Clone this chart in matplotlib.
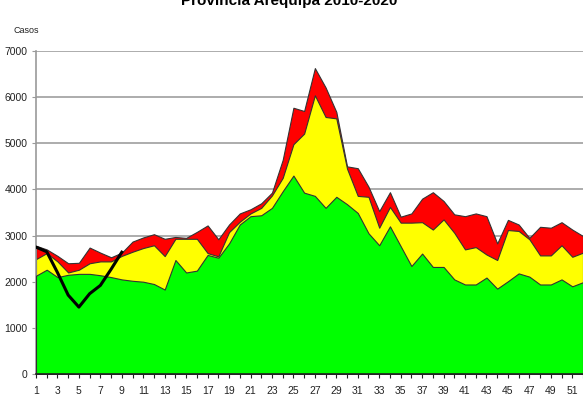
import matplotlib
matplotlib.use("Agg")
import matplotlib.pyplot as plt
import numpy as np

plt.rcParams['font.family'] = ['Liberation Sans Narrow', 'Liberation Sans', 'DejaVu Sans']

# semanas epidemiologicas
semanas = list(range(1, 53))
# zona de exito (verde), seguridad (amarillo), alarma (rojo)
exito = [2130, 2260, 2100, 2150, 2170, 2170, 2140, 2100, 2050, 2020,
         2000, 1950, 1830, 2470, 2200, 2240, 2580, 2520, 2830, 3240,
         3420, 3440, 3600, 3960, 4300, 3930, 3860, 3600, 3840, 3680,
         3490, 3050, 2790, 3200, 2770, 2340, 2610, 2320, 2320, 2050,
         1940, 1940, 2090, 1850, 2010, 2180, 2110, 1940, 1940, 2050,
         1900, 1990]
seguridad = [2490, 2620, 2440, 2200, 2260, 2400, 2440, 2440, 2560, 2650,
             2730, 2790, 2555, 2930, 2930, 2930, 2620, 2550, 3075, 3300,
             3480, 3600, 3870, 4250, 4980, 5210, 6040, 5570, 5540, 4450,
             3860, 3840, 3170, 3620, 3280, 3280, 3290, 3130, 3350, 3060,
             2700, 2750, 2590, 2470, 3120, 3100, 2920, 2570, 2570, 2790,
             2540, 2630]
alarma = [2780, 2700, 2560, 2400, 2410, 2740, 2630, 2530, 2630, 2870,
          2960, 3030, 2930, 2970, 2950, 3080, 3220, 2920, 3240, 3480,
          3570, 3700, 3930, 4640, 5770, 5700, 6630, 6210, 5680, 4500,
          4460, 4060, 3530, 3940, 3410, 3480, 3800, 3940, 3750, 3460,
          3420, 3480, 3420, 2830, 3340, 3240, 2950, 3190, 3170, 3290,
          3130, 2990]
# casos 2020
semanas_2020 = [1, 2, 3, 4, 5, 6, 7, 8, 9]
casos_2020 = [2750, 2650, 2200, 1710, 1450, 1740, 1920, 2270, 2640]

fig = plt.figure(figsize=(5.83, 4.07), dpi=100)
ax = fig.add_axes([36 / 583, 1 - 374 / 407, 1 - 36 / 583, (374 - 51) / 407])

for y in range(1000, 8000, 1000):
    ax.axhline(y, color='#a6a6a6', lw=1.3, zorder=0)

ax.fill_between(semanas, 0, alarma, color='#ff0000', edgecolor='#333333', lw=0.8, zorder=1)
ax.fill_between(semanas, 0, seguridad, color='#ffff00', edgecolor='#333333', lw=0.8, zorder=2)
ax.fill_between(semanas, 0, exito, color='#00ff00', edgecolor='#333333', lw=0.8, zorder=3)
ax.plot(semanas_2020, casos_2020, color='black', lw=2.2, zorder=5)

ax.set_xlim(1, 52)
ax.set_ylim(0, 7000)
ax.set_xticks(semanas)
ax.set_xticklabels([str(s) if s % 2 == 1 else '' for s in semanas])
ax.set_yticks(range(0, 8000, 1000))
ax.tick_params(axis='both', labelsize=7.5, length=3, width=0.8, colors='#222222', pad=6)
ax.tick_params(axis='y', colors='#999999', labelcolor='#222222', pad=3)

for s in ['top', 'right']:
    ax.spines[s].set_visible(False)
ax.spines['left'].set_color('#999999')
ax.spines['left'].set_linewidth(1.2)
ax.spines['bottom'].set_color('#222222')
ax.spines['bottom'].set_linewidth(1.2)
ax.spines['bottom'].set_zorder(6)

fig.text(14 / 583, 1 - 33 / 407, 'Casos', fontsize=6.5, color='#222222')
fig.text(0.496, 1 - 5 / 407, 'Provincia Arequipa 2010-2020', fontsize=11,
         fontweight='bold', family=['Liberation Sans', 'DejaVu Sans'],
         ha='center', va='baseline')

fig.savefig('out.png', dpi=100)
